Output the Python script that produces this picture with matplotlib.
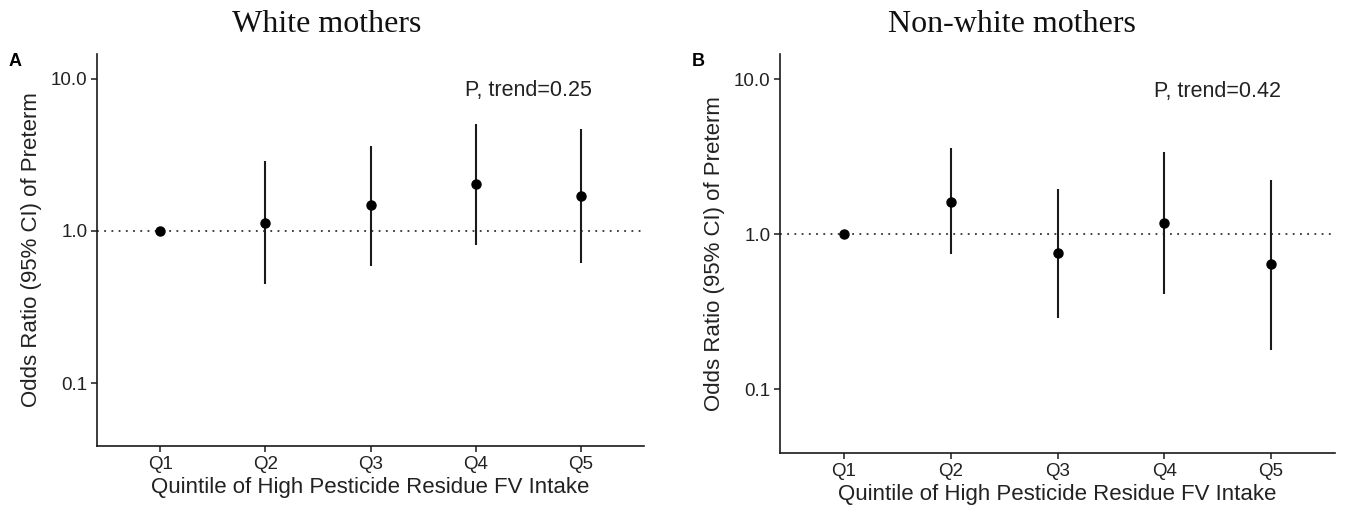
import matplotlib
matplotlib.use("Agg")
import matplotlib.pyplot as plt
import matplotlib.ticker as ticker

# ── Data ───────────────────────────────────────────────────────────────────────
quintiles = ["Q1", "Q2", "Q3", "Q4", "Q5"]

white_or   = [1.00, 1.13, 1.47, 2.02, 1.70]
white_low  = [1.00, 0.45, 0.59, 0.81, 0.62]
white_high = [1.00, 2.87, 3.62, 5.05, 4.66]

nonwhite_or   = [1.00, 1.62, 0.76, 1.18, 0.64]
nonwhite_low  = [1.00, 0.74, 0.29, 0.41, 0.18]
nonwhite_high = [1.00, 3.57, 1.95, 3.38, 2.25]

panel_titles = ["White mothers", "Non-white mothers"]
panel_tags   = ["A", "B"]
p_trend      = ["P, trend=0.25", "P, trend=0.42"]

# ── Style ─────────────────────────────────────────────────────────────────────
plt.rcParams["font.family"] = ["Liberation Sans", "DejaVu Sans"]
INK = "#1a1a1a"
W, H = 1347, 515

fig = plt.figure(figsize=(W / 100, H / 100), dpi=100)

# axes boxes in pixels: left, top, right, bottom
boxes = [(97, 54, 644, 446), (780, 54, 1335, 453)]
title_x = [327, 1012]

series = [
    (white_or, white_low, white_high),
    (nonwhite_or, nonwhite_low, nonwhite_high),
]

x = list(range(1, len(quintiles) + 1))

for i, (est, lo, hi) in enumerate(series):
    l, t, r, b = boxes[i]
    ax = fig.add_axes([l / W, 1 - b / H, (r - l) / W, (b - t) / H])

    ax.axhline(1.0, color="#333333", lw=1.3, linestyle=(0, (1, 3)), zorder=1)
    ax.vlines(x, lo, hi, color=INK, lw=1.5, zorder=2)
    ax.plot(x, est, "o", color="black", markersize=6.5, zorder=3)

    ax.set_yscale("log")
    ax.set_ylim(0.0388, 14.5)
    ax.set_xlim(0.4, 5.6)
    ax.set_xticks(x)
    ax.set_xticklabels(quintiles)
    ax.yaxis.set_major_locator(ticker.FixedLocator([0.1, 1.0, 10.0]))
    ax.yaxis.set_major_formatter(ticker.FixedFormatter(["0.1", "1.0", "10.0"]))
    ax.yaxis.set_minor_locator(ticker.NullLocator())

    ax.spines[["top", "right"]].set_visible(False)
    for s in ("left", "bottom"):
        ax.spines[s].set_linewidth(1.2)
        ax.spines[s].set_color(INK)
    ax.tick_params(axis="both", labelsize=13.5, length=4, width=1.1,
                   color=INK, labelcolor="#222222", pad=3)

    ax.set_xlabel("Quintile of High Pesticide Residue FV Intake",
                  fontsize=16, color="#222222", labelpad=3)
    ax.set_ylabel("Odds Ratio (95% CI) of Preterm",
                  fontsize=16, color="#222222", labelpad=6)

    ax.text(4.5, 8.3, p_trend[i], ha="center", va="center",
            fontsize=15.5, color="#222222")

    # panel tag and title
    fig.text((l - 82) / W, 1 - 62 / H, panel_tags[i], fontsize=13,
             fontweight="bold", ha="center", va="center", color="black")
    fig.text(title_x[i] / W, 1 - 25 / H, panel_titles[i], fontsize=23,
             family="Liberation Serif", ha="center", va="center",
             color="#111111")

fig.savefig("out.png", dpi=100)
